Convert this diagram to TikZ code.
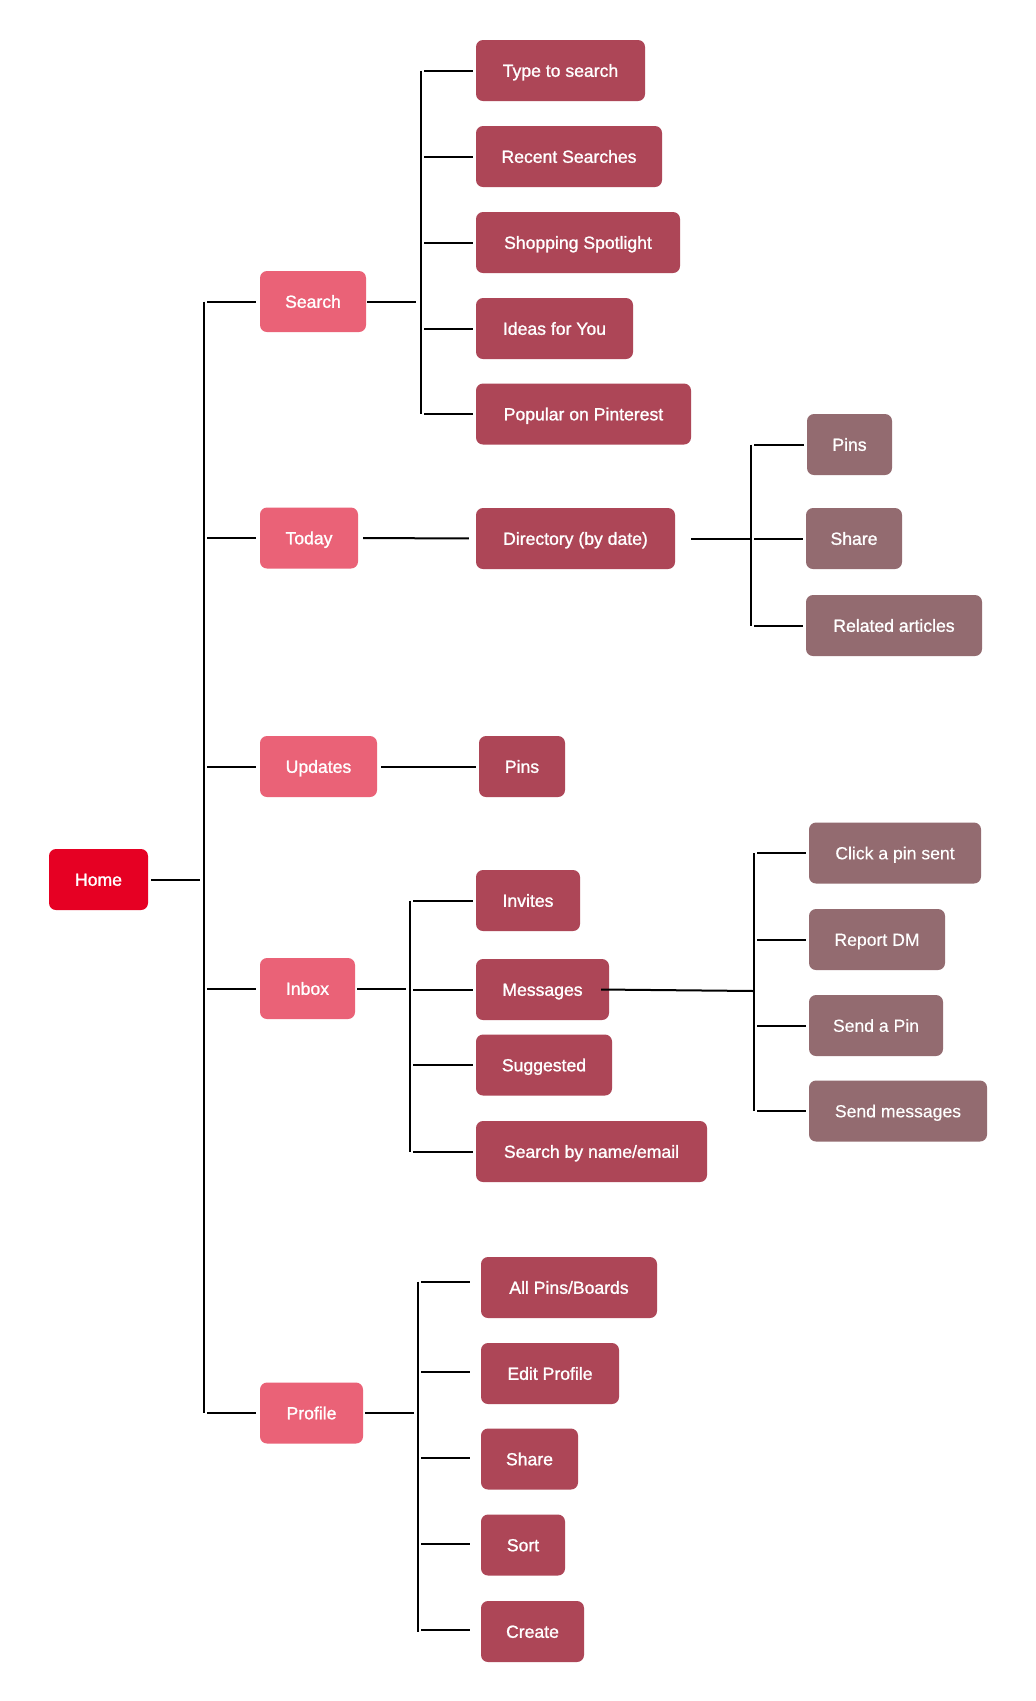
\documentclass[tikz,border=0pt]{standalone}
\usepackage{fontspec}
\setmainfont{Liberation Sans}
\newfontfamily\medfont{Liberation Sans}[FakeBold=1.2]
\newfontfamily\regfont{Liberation Sans}[FakeBold=0.3]
\definecolor{homered}{HTML}{E60023}
\definecolor{levelone}{HTML}{EA6277}
\definecolor{leveltwo}{HTML}{AD4657}
\definecolor{levelthree}{HTML}{936B70}
\tikzset{
  box/.style={rounded corners=7pt, text=white, inner sep=0pt,
    text height=12.6pt, text depth=0pt,
    minimum height=61pt, font=\medfont\fontsize{17.6}{21}\selectfont},
  homebox/.style={box, fill=homered},
  onebox/.style={box, fill=levelone},
  twobox/.style={box, fill=leveltwo},
  threebox/.style={box, fill=levelthree},
  thinbox/.style={box, fill=levelthree, font=\regfont\fontsize{17.6}{21}\selectfont},
  link/.style={draw=black, line width=2pt},
}
\begin{document}
\begin{tikzpicture}[x=1pt, y=-1pt]
\useasboundingbox[fill=white] (0,0) rectangle (1036,1701);

% root and first level
\node[homebox, minimum width=99pt]  (home)    at (98.5,879.5) {Home};
\node[onebox, minimum width=106pt]  (search)  at (313,301.5)  {Search};
\node[onebox, minimum width=98pt]   (today)   at (309,538)    {Today};
\node[onebox, minimum width=117pt]  (updates) at (318.5,766.5){Updates};
\node[onebox, minimum width=95pt]   (inbox)   at (307.5,988.5){Inbox};
\node[onebox, minimum width=103pt]  (profile) at (311.5,1413) {Profile};

% search branch
\node[twobox, minimum width=169pt] (typ)  at (560.5,70.5)  {Type to search};
\node[twobox, minimum width=186pt] (rec)  at (569,156.5)   {Recent Searches};
\node[twobox, minimum width=204pt] (shop) at (578,242.5)   {Shopping Spotlight};
\node[twobox, minimum width=157pt] (idea) at (554.5,328.5) {Ideas for You};
\node[twobox, minimum width=215pt] (pop)  at (583.5,414)   {Popular on Pinterest};

% today branch
\node[twobox, minimum width=199pt] (dir)   at (575.5,538.5) {Directory (by date)};
\node[threebox, minimum width=85pt]  (dpins) at (849.5,444.5) {Pins};
\node[threebox, minimum width=96pt]  (dshare) at (854,538.5)  {Share};
\node[threebox, minimum width=176pt] (rel)   at (894,625.5)   {Related articles};

% updates branch
\node[twobox, minimum width=86pt] (upins) at (522,766.5) {Pins};

% inbox branch
\node[twobox, minimum width=104pt] (inv)  at (528,900.5)   {Invites};
\node[twobox, minimum width=133pt] (msg)  at (542.5,989.5) {Messages};
\node[twobox, minimum width=136pt] (sugg) at (544,1065)    {Suggested};
\node[twobox, minimum width=231pt] (sbn)  at (591.5,1151.5){Search by name/email};
\node[thinbox, minimum width=172pt] (click) at (895,853)    {Click a pin sent};
\node[thinbox, minimum width=136pt] (rep)   at (877,939.5)  {Report DM};
\node[thinbox, minimum width=134pt] (send)  at (876,1025.5) {Send a Pin};
\node[thinbox, minimum width=178pt] (sendm) at (898,1111)   {Send messages};

% profile branch
\node[twobox, minimum width=176pt] (allp)   at (569,1287.5) {All Pins/Boards};
\node[twobox, minimum width=138pt] (edit)   at (550,1373.5) {Edit Profile};
\node[twobox, minimum width=97pt]  (pshare) at (529.5,1459) {Share};
\node[twobox, minimum width=84pt]  (sort)   at (523,1545)   {Sort};
\node[twobox, minimum width=103pt] (create) at (532.5,1631.5){Create};

% vertical bars
\coordinate (trunk) at (204,0);
\coordinate (barS) at (421,0);
\coordinate (barD) at (751,0);
\coordinate (barI) at (410,0);
\coordinate (barM) at (754,0);
\coordinate (barP) at (418,0);

\draw[link] (trunk |- search) -- (trunk |- profile);
\draw[link] (barS |- typ) -- (barS |- pop);
\draw[link] (barD |- dpins) -- (barD |- rel);
\draw[link] (barI |- inv) -- (barI |- sbn);
\draw[link] (barM |- click) -- (barM |- sendm);
\draw[link] ([yshift=6pt]barP |- allp) -- (barP |- create);

% root to trunk
\draw[link, shorten <=3pt, shorten >=4pt] (home.east) -- (home.east -| trunk);

% trunk to first level
\foreach \n in {search,today,updates,inbox,profile}
  \draw[link, shorten <=3pt, shorten >=4pt] (trunk |- \n.west) -- (\n.west);

% first level onwards
\draw[link, shorten <=1pt, shorten >=5pt] (search.east) -- (search.east -| barS);
\draw[link, shorten <=5pt, shorten >=7pt] (today.east) -- (dir.west);
\draw[link, shorten <=4pt, shorten >=3pt] (updates.east) -- (upins.west);
\draw[link, shorten <=2pt, shorten >=4pt] (inbox.east) -- (inbox.east -| barI);
\draw[link, shorten <=2pt, shorten >=4pt] (profile.east) -- (profile.east -| barP);
\draw[link, shorten <=16pt] (dir.east) -- (dir.east -| barD);
\draw[link] ([xshift=-8pt]msg.east) -- ([yshift=-1.5pt]msg.east -| barM);

% stubs from bars to leaves
\foreach \n in {typ,rec,shop,idea,pop}
  \draw[link, shorten <=3pt, shorten >=3pt] (barS |- \n.west) -- (\n.west);
\foreach \n in {dpins,dshare,rel}
  \draw[link, shorten <=3pt, shorten >=3pt] (barD |- \n.west) -- (\n.west);
\foreach \n in {inv,msg,sugg,sbn}
  \draw[link, shorten <=3pt, shorten >=3pt] (barI |- \n.west) -- (\n.west);
\foreach \n in {click,rep,send,sendm}
  \draw[link, shorten <=3pt, shorten >=3pt] (barM |- \n.west) -- (\n.west);
\draw[link, shorten <=3pt, shorten >=11pt] ([yshift=5.5pt]barP |- allp.west) -- ([yshift=5.5pt]allp.west);
\foreach \n in {edit,pshare,sort,create}
  \draw[link, shorten <=3pt, shorten >=11pt] ([yshift=1.5pt]barP |- \n.west) -- ([yshift=1.5pt]\n.west);
\end{tikzpicture}
\end{document}
